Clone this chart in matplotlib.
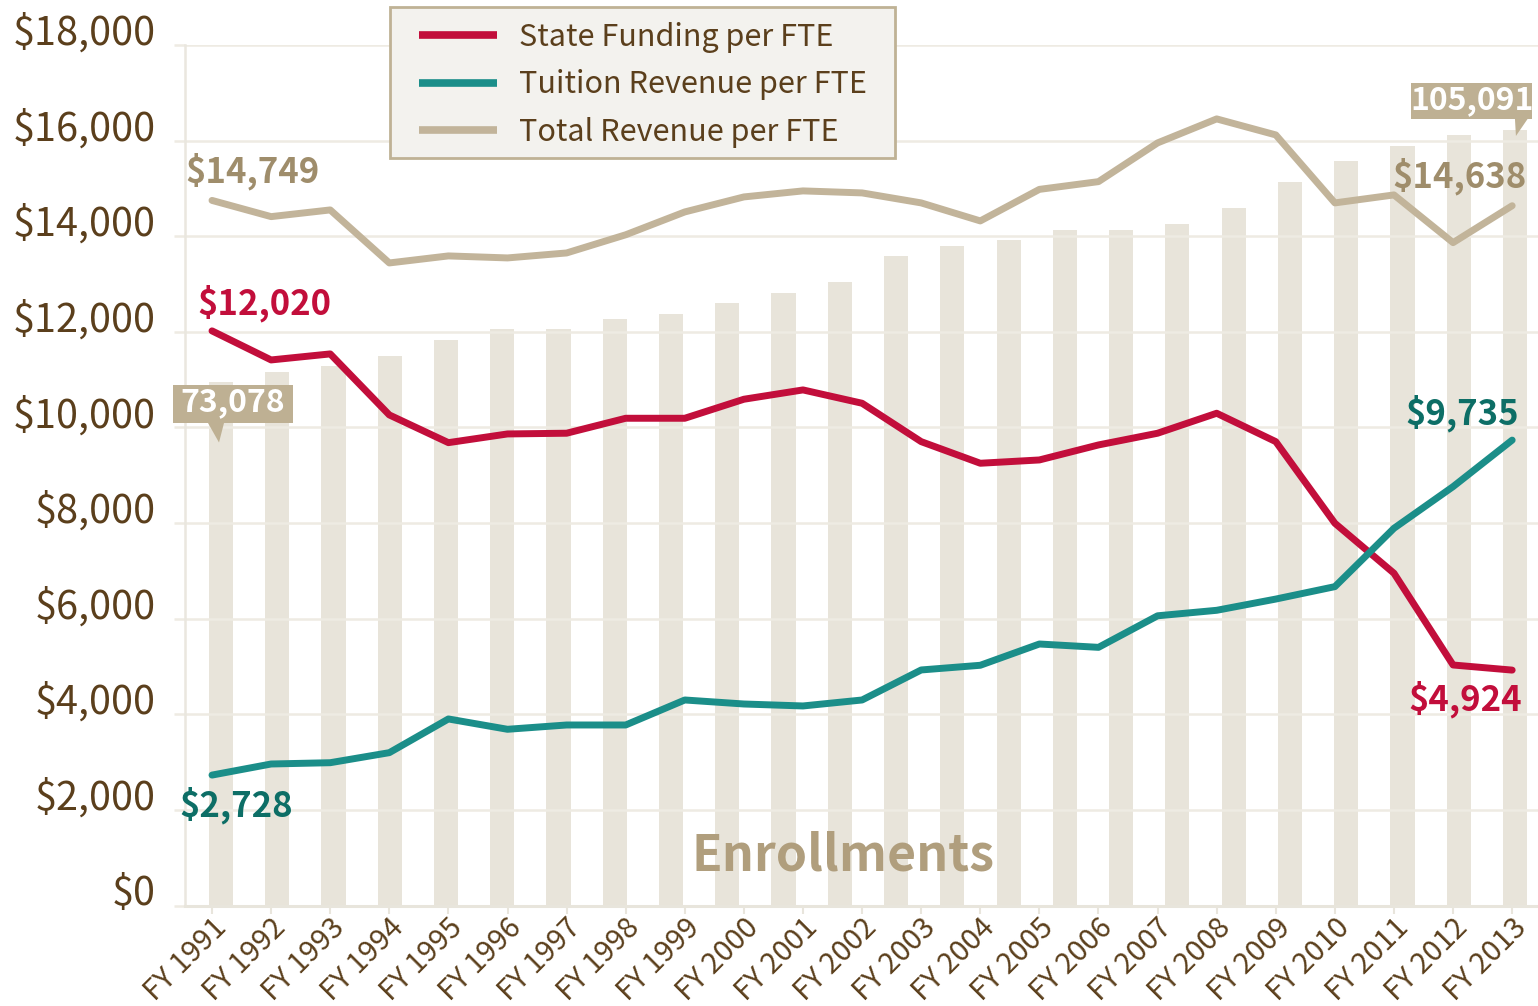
import numpy as np
import matplotlib
matplotlib.use("Agg")
import matplotlib.pyplot as plt
import matplotlib.transforms as mtransforms
from matplotlib.patches import Polygon, Rectangle

# ---------------- data ----------------
years = ["FY 1991", "FY 1992", "FY 1993", "FY 1994", "FY 1995", "FY 1996", "FY 1997",
         "FY 1998", "FY 1999", "FY 2000", "FY 2001", "FY 2002", "FY 2003", "FY 2004",
         "FY 2005", "FY 2006", "FY 2007", "FY 2008", "FY 2009", "FY 2010", "FY 2011",
         "FY 2012", "FY 2013"]
state_funding = [12020, 11412, 11538, 10262, 9682, 9864, 9879, 10192, 10192, 10590, 10785,
                 10506, 9703, 9251, 9320, 9634, 9879, 10297, 9703, 7996, 6950, 5031, 4924]
tuition = [2728, 2960, 2987, 3197, 3902, 3686, 3776, 3776, 4299, 4215, 4174, 4299, 4927,
           5025, 5470, 5400, 6060, 6175, 6410, 6670, 7891, 8762, 9735]
total_revenue = [14749, 14410, 14550, 13441, 13588, 13546, 13650, 14030, 14508, 14822, 14948,
                 14906, 14697, 14320, 14980, 15142, 15952, 16454, 16119, 14697, 14864, 13866, 14638]
enrollment = [73078, 74350, 75075, 76385, 78382, 79743, 79800, 81015, 81728, 83089, 84399,
              85722, 89067, 90377, 91064, 92374, 92400, 93099, 95134, 98442, 101151, 103097,
              104458, 105091]
y_ticks = [0, 2000, 4000, 6000, 8000, 10000, 12000, 14000, 16000, 18000]
series_names = ["State Funding per FTE", "Tuition Revenue per FTE", "Total Revenue per FTE"]

# ---------------- style ----------------
RED = "#C20E3B"
TEAL = "#1B8E89"
TEAL_DARK = "#0D6E66"
TAN = "#C2B49A"
TAN_TEXT = "#9F8D6B"
BAR = "#E8E4DA"
GRID = "#EEEBE3"
BROWN = "#5B3F1C"
FONT = ["Noto Sans CJK JP", "DejaVu Sans"]
plt.rcParams["font.family"] = FONT

W, H = 1538, 1006
fig = plt.figure(figsize=(W / 100, H / 100), dpi=100)
fig.patch.set_facecolor("white")
L, R, T, B = 185, 1538, 45, 905.5
pos = [L / W, 1 - B / H, (R - L) / W, (B - T) / H]

# enrollment bars (own axes)
axb = fig.add_axes(pos, zorder=0)
xb = np.arange(len(enrollment))
axb.bar(xb, enrollment, width=0.43, color=BAR, linewidth=0)
axb.set_xlim(-0.64, 23.41)
axb.set_ylim(6387, 115906)
axb.axis("off")

# main axes
ax = fig.add_axes(pos, zorder=1)
ax.patch.set_visible(False)
x = np.arange(len(years))
LW = 5.0
l_total, = ax.plot(x, total_revenue, color=TAN, lw=LW, solid_capstyle="round",
                   solid_joinstyle="round", zorder=3)
l_state, = ax.plot(x, state_funding, color=RED, lw=LW, solid_capstyle="round",
                   solid_joinstyle="round", zorder=3)
l_tuit, = ax.plot(x, tuition, color=TEAL, lw=LW, solid_capstyle="round",
                  solid_joinstyle="round", zorder=4)

ax.set_yticks(y_ticks)
ax.set_yticklabels([f"${v:,}" for v in y_ticks], fontsize=28.5, color=BROWN)
ax.grid(axis="y", color=GRID, lw=1.8)
ax.set_axisbelow(True)
ax.tick_params(axis="y", length=8, width=1.8, color=GRID, pad=13)
ax.set_xticks(x)
ax.set_xticklabels(years, rotation=45, ha="right", va="center", rotation_mode="anchor",
                   fontsize=21, color=BROWN)
ax.tick_params(axis="x", length=6, width=1.5, color="#E8E5DC", pad=7)
for s in ["top", "right"]:
    ax.spines[s].set_visible(False)
ax.spines["left"].set_color("#EAE7DF")
ax.spines["left"].set_linewidth(1.8)
ax.spines["bottom"].set_color("#E8E5DC")
ax.spines["bottom"].set_linewidth(2.2)

off_y = mtransforms.ScaledTranslation(0, 0.16, fig.dpi_scale_trans)
for lbl in ax.get_yticklabels():
    lbl.set_transform(lbl.get_transform() + off_y)
off_x = mtransforms.ScaledTranslation(0.10, 0.0, fig.dpi_scale_trans)
for lbl in ax.get_xticklabels():
    lbl.set_transform(lbl.get_transform() + off_x)

# value labels
def lab(xv, yv, txt, dx, dy, color):
    ax.annotate(txt, xy=(xv, yv), xytext=(dx, dy), textcoords="offset pixels",
                ha="center", va="center", color=color, fontsize=25, weight="bold",
                zorder=6, annotation_clip=False)

n = len(years) - 1
lab(0, total_revenue[0], f"${total_revenue[0]:,}", 40, 29, TAN_TEXT)
lab(0, state_funding[0], f"${state_funding[0]:,}", 52, 28, RED)
lab(0, tuition[0], f"${tuition[0]:,}", 24, -30, TEAL_DARK)
lab(n, total_revenue[n], f"${total_revenue[n]:,}", -53, 30, TAN_TEXT)
lab(n, tuition[n], f"${tuition[n]:,}", -50, 27, TEAL_DARK)
lab(n, state_funding[n], f"${state_funding[n]:,}", -47, -29, RED)

# enrollment callouts
CALLOUT = "#BEB093"
def callout(j, box, tail, text_off):
    trans = fig.dpi_scale_trans + mtransforms.ScaledTranslation(j, enrollment[j], axb.transData)
    x0, x1, y0, y1 = box
    verts = [(x0, y0), (x1, y0), (x1, y1), (x0, y1)]
    for v in (verts, tail):
        p = Polygon(np.array(v) / 100.0, closed=True, transform=trans, fc=CALLOUT,
                    ec="none", clip_on=False, zorder=7)
        ax.add_artist(p)
    ax.annotate(f"{enrollment[j]:,}", xy=(j, enrollment[j]), xycoords=axb.transData,
                xytext=text_off, textcoords="offset pixels", ha="center", va="center",
                color="white", fontsize=23, weight="bold", zorder=8,
                annotation_clip=False)

callout(0, (-48, 72, -41, -3), [(-13, -41.5), (3, -41.5), (-2, -61)], (12, -21))
m = len(enrollment) - 1
callout(m, (-104, 17, 11, 47), [(0, 11.5), (13, 11.5), (1, -6)], (-43, 30))

ax.text(0.486, 0.058, "Enrollments", transform=ax.transAxes, ha="center", va="center",
        fontsize=36, weight="bold", color="#B09E7D", zorder=5)

ax.set_xlim(-0.457, 22.437)
ax.set_ylim(0, 18000)

# legend
frame = Rectangle((390 / W, 1 - 158 / H), 505 / W, 151 / H, transform=fig.transFigure,
                  fc="#F3F2EE", ec="#BFB295", lw=2, zorder=2)
fig.patches.append(frame)
leg = fig.legend([l_state, l_tuit, l_total], series_names, loc="upper left",
                 bbox_to_anchor=(419 / W, 1 - 22 / H), bbox_transform=fig.transFigure,
                 frameon=False, borderpad=0, borderaxespad=0, handlelength=2.55,
                 handletextpad=0.72, labelspacing=0.54,
                 prop={"size": 22})
for t in leg.get_texts():
    t.set_color(BROWN)
for h in leg.legend_handles:
    h.set_linewidth(5.5)
    h.set_solid_capstyle("butt")
leg.set_zorder(6)

fig.savefig("out.png", dpi=100)
